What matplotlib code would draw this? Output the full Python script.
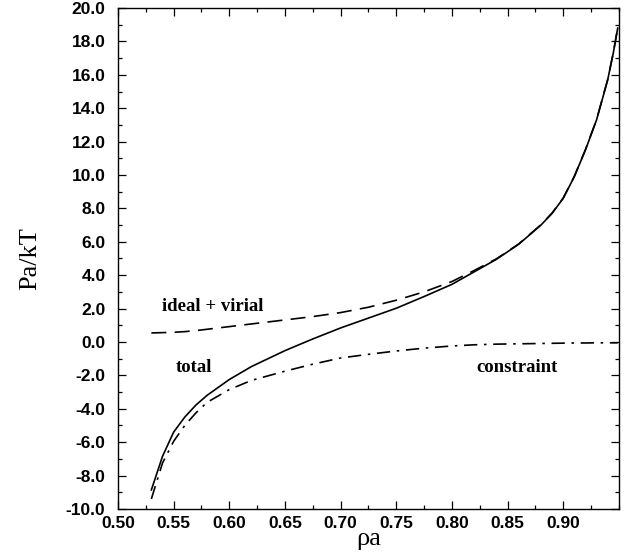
import numpy as np
import matplotlib
matplotlib.use("Agg")
import matplotlib.pyplot as plt
from matplotlib.ticker import MultipleLocator, FormatStrFormatter

# density rho*a
rho = [0.530, 0.540, 0.550, 0.560, 0.570, 0.580, 0.600, 0.620, 0.650, 0.675,
       0.700, 0.725, 0.750, 0.775, 0.800, 0.820, 0.840, 0.860, 0.880, 0.890,
       0.900, 0.910, 0.920, 0.930, 0.940, 0.945, 0.949]

total = [-8.86, -6.85, -5.40, -4.50, -3.78, -3.20, -2.25, -1.47, -0.52, 0.18,
         0.84, 1.43, 2.02, 2.72, 3.45, 4.20, 4.95, 5.85, 7.00, 7.70,
         8.60, 9.90, 11.50, 13.30, 15.70, 17.30, 18.80]

ideal_virial = [0.54, 0.56, 0.58, 0.62, 0.68, 0.76, 0.92, 1.08, 1.32, 1.52,
                1.76, 2.08, 2.50, 3.00, 3.62, 4.28, 4.98, 5.87, 7.02, 7.72,
                8.62, 9.92, 11.52, 13.32, 15.72, 17.32, 18.82]

constraint = [-9.40, -7.25, -5.95, -5.00, -4.25, -3.62, -2.85, -2.30, -1.75, -1.33,
              -0.96, -0.74, -0.54, -0.37, -0.24, -0.17, -0.13, -0.11, -0.09, -0.08,
              -0.07, -0.06, -0.06, -0.05, -0.05, -0.05, -0.05]

fig = plt.figure(figsize=(6.36, 5.55), dpi=100)
ax = fig.add_axes([0.1855, 0.083, 0.7875, 0.9025])

ax.plot(rho, total, color="black", lw=1.2)
ax.plot(rho, ideal_virial, color="black", lw=1.2, dashes=(9, 5))
ax.plot(rho, constraint, color="black", lw=1.2, dashes=(8, 4, 1.5, 4))

ax.set_xlim(0.50, 0.95)
ax.set_ylim(-10.0, 20.0)

ax.xaxis.set_major_locator(MultipleLocator(0.05))
ax.xaxis.set_minor_locator(MultipleLocator(0.025))
ax.yaxis.set_major_locator(MultipleLocator(2.0))
ax.yaxis.set_minor_locator(MultipleLocator(1.0))
ax.xaxis.set_major_formatter(FormatStrFormatter("%.2f"))
ax.yaxis.set_major_formatter(FormatStrFormatter("%.1f"))
ax.set_xticks(np.arange(0.50, 0.91, 0.05))

ax.tick_params(which="both", direction="in", top=True, right=True, width=0.9)
ax.tick_params(which="major", length=6)
ax.tick_params(which="minor", length=3)
ax.tick_params(axis="x", which="major", pad=5)
ax.tick_params(axis="y", which="major", pad=9)
for lab in ax.get_xticklabels() + ax.get_yticklabels():
    lab.set_fontfamily("Liberation Sans")
    lab.set_fontweight("bold")
    lab.set_fontsize(12.5)

for s in ax.spines.values():
    s.set_linewidth(1.0)

ax.set_xlabel("ρa", family="Liberation Serif", fontsize=19, labelpad=-2)
ax.set_ylabel("Pa/kT", family="Liberation Serif", fontsize=19, labelpad=18)

tfont = dict(family="Liberation Serif", fontweight="bold", fontsize=13.5, va="center")
ax.text(0.540, 2.15, "ideal + virial", **tfont)
ax.text(0.552, -1.5, "total", **tfont)
ax.text(0.822, -1.5, "constraint", **tfont)

plt.savefig("out.png", dpi=100)
